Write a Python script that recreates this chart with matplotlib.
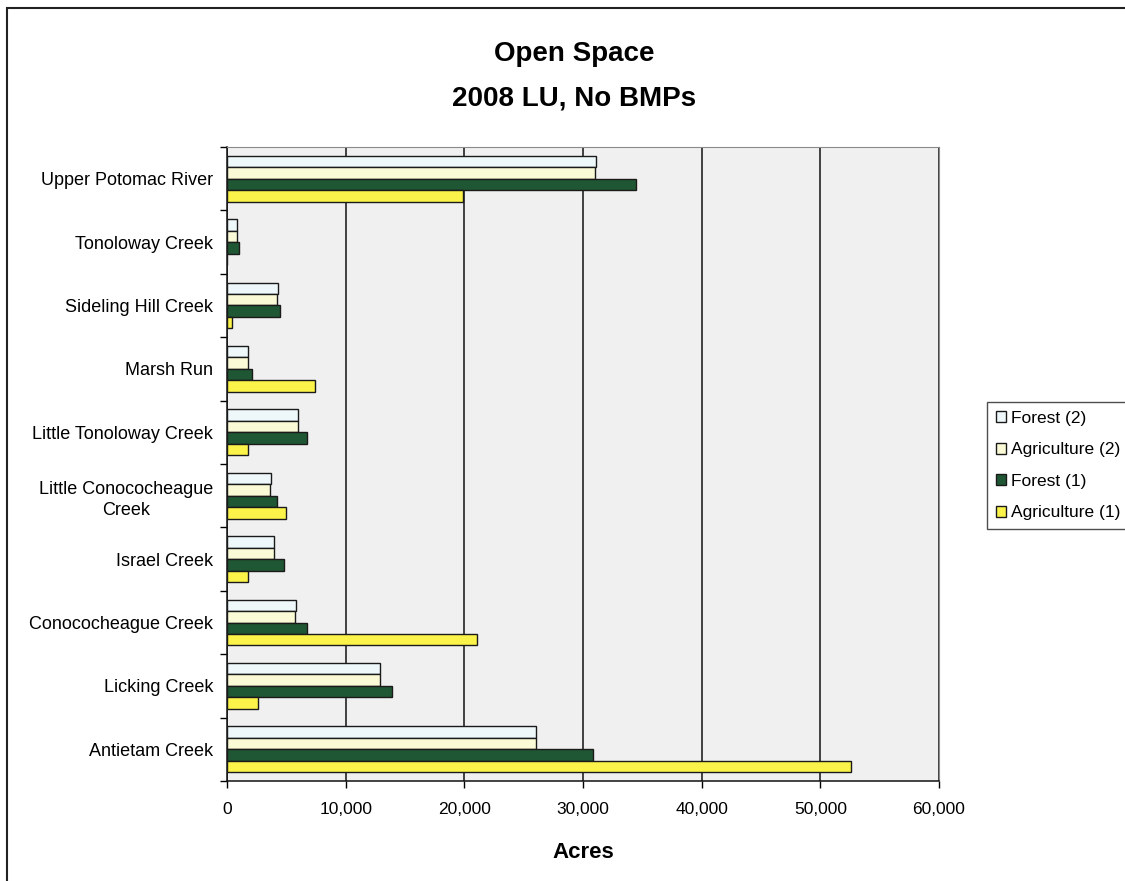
import numpy as np
import matplotlib
matplotlib.use("Agg")
import matplotlib.pyplot as plt
from matplotlib.patches import Patch, Rectangle

plt.rcParams['font.family'] = ['Liberation Sans', 'DejaVu Sans']

# watersheds, top to bottom as in the chart
watersheds = ["Upper Potomac River", "Tonoloway Creek", "Sideling Hill Creek", "Marsh Run",
              "Little Tonoloway Creek", "Little Conococheague\nCreek", "Israel Creek",
              "Conococheague Creek", "Licking Creek", "Antietam Creek"]

forest_2 = [31100, 870, 4270, 1800, 5980, 3710, 3970, 5800, 12900, 26050]
agriculture_2 = [31000, 870, 4250, 1800, 5980, 3640, 3970, 5720, 12900, 26050]
forest_1 = [34500, 1000, 4440, 2130, 6770, 4190, 4770, 6780, 13900, 30850]
agriculture_1 = [19900, 0, 450, 7390, 1770, 4990, 1810, 21050, 2610, 52550]

xticks = [0, 10000, 20000, 30000, 40000, 50000, 60000]

series = [
    ("Forest (2)", forest_2, "#eef8fb"),
    ("Agriculture (2)", agriculture_2, "#fbfad6"),
    ("Forest (1)", forest_1, "#1f5633"),
    ("Agriculture (1)", agriculture_1, "#fbf24a"),
]

fig = plt.figure(figsize=(11.25, 8.81), dpi=100)
ax = fig.add_axes([227 / 1125, 1 - 781 / 881, 712 / 1125, 634 / 881])
ax.set_facecolor("#f0f0f0")

y = np.arange(len(watersheds))
h = 0.18
offsets = [-1.5 * h, -0.5 * h, 0.5 * h, 1.5 * h]
for (name, vals, col), off in zip(series, offsets):
    ax.barh(y + off, vals, height=h, color=col, edgecolor="#1a1a1a", linewidth=1.0,
            label=name, zorder=3)

ax.set_xlim(0, 60000)
ax.set_ylim(len(watersheds) - 0.5, -0.5)
ax.set_xticks(xticks)
ax.set_xticklabels([f"{v:,}" for v in xticks], fontsize=12.5)
ax.xaxis.grid(True, color="#111111", linewidth=1.1, zorder=1)
ax.tick_params(axis="x", direction="out", length=5, width=1, pad=10)

# ticks at category boundaries, labels at centres
ax.set_yticks(np.arange(len(watersheds) + 1) - 0.5)
ax.set_yticklabels([])
ax.set_yticks(y, minor=True)
ax.set_yticklabels(watersheds, minor=True, fontsize=13)
for lab in ax.get_yticklabels(minor=True):
    lab.set_multialignment("center")
    lab.set_linespacing(1.35)
ax.tick_params(axis="y", which="major", direction="out", length=5, width=1)
ax.tick_params(axis="y", which="minor", length=0, pad=10)

for s in ["left", "bottom"]:
    ax.spines[s].set_color("#111111")
    ax.spines[s].set_linewidth(1.1)
for s in ["top", "right"]:
    ax.spines[s].set_color("#8a8a8a")
    ax.spines[s].set_linewidth(0.8)

fig.text(574 / 1125, 1 - 61 / 881, "Open Space", ha="center", va="baseline",
         fontsize=20, fontweight="bold")
fig.text(574 / 1125, 1 - 105 / 881, "2008 LU, No BMPs", ha="center", va="baseline",
         fontsize=20, fontweight="bold")
fig.text(583 / 1125, 1 - 853 / 881, "Acres", ha="center", va="center",
         fontsize=16, fontweight="bold")

handles = [Patch(facecolor=col, edgecolor="#1a1a1a", linewidth=1.0, label=name)
           for name, vals, col in series]
leg = fig.legend(handles=handles, loc="upper left", bbox_to_anchor=(987 / 1125, 1 - 402 / 881),
                 fontsize=12.5, frameon=True, fancybox=False, borderpad=0.5,
                 labelspacing=0.95, handlelength=0.6, handleheight=0.6,
                 handletextpad=0.3, borderaxespad=0)
leg.get_frame().set_edgecolor("#222222")
leg.get_frame().set_linewidth(1.0)

# outer chart frame (cut off at right and bottom)
fig.add_artist(Rectangle((7 / 1125, -0.2), 1.2, 1.2 - 8 / 881,
                         transform=fig.transFigure, fill=False,
                         edgecolor="#222222", linewidth=1.5))

fig.savefig("out.png", dpi=100)
